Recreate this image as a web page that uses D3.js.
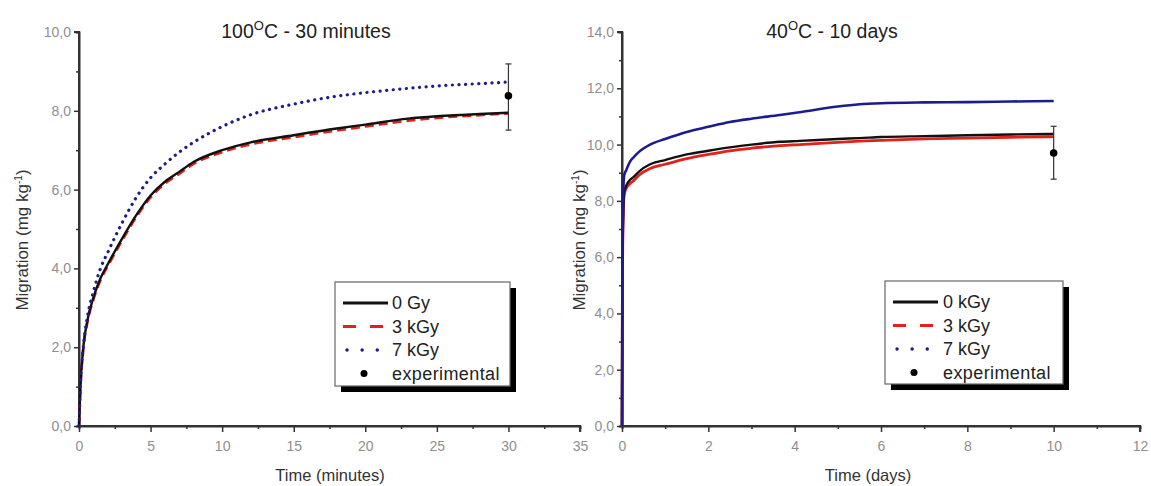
<!DOCTYPE html>
<html><head><meta charset="utf-8">
<script src="https://cdn.jsdelivr.net/npm/d3@7"></script>
<style>html,body{margin:0;padding:0;background:#fff;}svg{display:block;font-family:"Liberation Sans",Arial,sans-serif;}
.tick text{font-size:14px !important;fill:#8f8f8f;font-family:"Liberation Sans",Arial,sans-serif;}</style>
</head><body>
<script>
// ---------- DATA ----------
const leftTime  = [0, 0.1, 0.3, 0.6, 1, 1.5, 2, 3, 4, 5, 6, 7, 8, 10, 12, 15, 18, 20, 23, 25, 28, 30];
const left0Gy   = [0, 1.0, 2.0, 2.7, 3.25, 3.75, 4.1, 4.75, 5.35, 5.85, 6.2, 6.45, 6.7, 7.0, 7.2, 7.38, 7.55, 7.65, 7.8, 7.86, 7.92, 7.95];
const left3kGy  = [0, 0.95, 1.95, 2.65, 3.2, 3.7, 4.05, 4.7, 5.3, 5.8, 6.15, 6.4, 6.65, 6.95, 7.15, 7.33, 7.5, 7.6, 7.75, 7.82, 7.89, 7.93];
const left7kGy  = [0, 1.0, 2.0, 2.8, 3.4, 4.0, 4.4, 5.15, 5.8, 6.3, 6.65, 6.95, 7.2, 7.6, 7.9, 8.17, 8.37, 8.46, 8.57, 8.63, 8.69, 8.73];
const leftExp   = [30, 8.38, 7.51, 9.19];   // time, mean, low, high

const rightTime = [0, 0.01, 0.03, 0.05, 0.1, 0.19, 0.27, 0.4, 0.65, 1, 1.5, 2, 2.5, 3, 3.66, 4.12, 5, 5.5, 6, 7, 8, 9, 10];
const right0kGy = [0, 5.5, 7.6, 8.3, 8.55, 8.75, 8.85, 9.05, 9.3, 9.45, 9.65, 9.78, 9.9, 10.0, 10.1, 10.13, 10.2, 10.23, 10.27, 10.3, 10.33, 10.36, 10.38];
const right3kGy = [0, 5.3, 7.5, 8.2, 8.45, 8.62, 8.72, 8.92, 9.15, 9.3, 9.5, 9.65, 9.78, 9.87, 9.96, 10.0, 10.08, 10.12, 10.15, 10.2, 10.23, 10.26, 10.28];
const right7kGy = [0, 6.0, 8.3, 8.9, 9.1, 9.4, 9.55, 9.75, 10.0, 10.2, 10.45, 10.63, 10.8, 10.92, 11.05, 11.15, 11.35, 11.43, 11.47, 11.5, 11.51, 11.53, 11.55];
const rightExp  = [10, 9.7, 8.77, 10.65];

const leftXTicks  = [0, 5, 10, 15, 20, 25, 30, 35];
const leftYTicks  = [0, 2, 4, 6, 8, 10];
const rightXTicks = [0, 2, 4, 6, 8, 10, 12];
const rightYTicks = [0, 2, 4, 6, 8, 10, 12, 14];
const leftLegend  = ["0  Gy", "3 kGy", "7 kGy", "experimental"];
const rightLegend = ["0 kGy", "3 kGy", "7 kGy", "experimental"];

const RED = "#e3201c", BLUE = "#1c1c8e", BLACK = "#111";
const FONT = "'Liberation Sans', Arial, sans-serif";

const svg = d3.select("body").append("svg").attr("width", 1151).attr("height", 486);

function panel(o) {
  const g = svg.append("g");
  const x = d3.scaleLinear().domain(o.xDomain).range([o.x0, o.x1]);
  const y = d3.scaleLinear().domain(o.yDomain).range([o.y0, o.y1]);

  // title
  const t = g.append("text").attr("x", o.titleX).attr("y", 38).attr("text-anchor", "middle")
    .attr("font-size", 19.5).attr("fill", "#222");
  t.append("tspan").text(o.titleA);
  t.append("tspan").attr("dy", -8).attr("font-size", 13).text("O");
  t.append("tspan").attr("dy", 8).text(o.titleB);

  // axes
  const fmt = d => d3.format(".1f")(d).replace(".", ",");
  const yAx = g.append("g").attr("transform", `translate(${o.x0},0)`)
    .call(d3.axisLeft(y).tickValues(o.yTicks).tickFormat(fmt).tickSize(5).tickPadding(3));
  const yMinor = g.append("g").attr("transform", `translate(${o.x0},0)`)
    .call(d3.axisLeft(y).tickValues(o.yMinor).tickFormat("").tickSize(3));
  const xAx = g.append("g").attr("transform", `translate(0,${o.y0})`)
    .call(d3.axisBottom(x).tickValues(o.xTicks).tickFormat(d3.format("d")).tickSize(6).tickPadding(9));
  const xMinor = g.append("g").attr("transform", `translate(0,${o.y0})`)
    .call(d3.axisBottom(x).tickValues(o.xMinor).tickFormat("").tickSize(3));
  [yAx, yMinor, xAx, xMinor].forEach(a => {
    a.attr("font-family", FONT).attr("font-size", 14);
    a.select(".domain").attr("stroke", "#333").attr("stroke-width", 2);
    a.selectAll(".tick line").attr("stroke", "#333").attr("stroke-width", 1.5);
    a.selectAll(".tick text").attr("fill", "#8f8f8f");
  });
  yAx.select(".domain").attr("d", `M-5,${o.y1}H0V${o.y0}`);
  xAx.select(".domain").attr("d", `M${o.x0},0H${o.x1}V6`);

  // axis titles
  g.append("text").attr("x", o.xLabelX).attr("y", 481).attr("text-anchor", "middle")
    .attr("font-size", 16.5).attr("fill", "#333").text(o.xLabel);
  const yl = g.append("text").attr("transform", `translate(${o.yLabelX},${o.yLabelY}) rotate(-90)`)
    .attr("text-anchor", "middle").attr("font-size", 17).attr("fill", "#333");
  yl.append("tspan").text("Migration (mg kg");
  yl.append("tspan").attr("dy", -6).attr("font-size", 10).text("-1");
  yl.append("tspan").attr("dy", 6).text(")");

  // curves
  const line = d3.line().x(d => x(d[0])).y(d => y(d[1])).curve(d3.curveMonotoneX);
  o.series.forEach(s => {
    g.append("path").datum(o.time.map((tt, i) => [tt, s.values[i]]))
      .attr("fill", "none").attr("stroke", s.color).attr("stroke-width", s.width)
      .attr("stroke-dasharray", s.dash || null).attr("stroke-linecap", s.cap || "butt")
      .attr("d", line);
  });

  // experimental point
  const e = o.exp;
  g.append("line").attr("x1", x(e[0])).attr("x2", x(e[0])).attr("y1", y(e[2])).attr("y2", y(e[3]))
    .attr("stroke", "#333").attr("stroke-width", 1.2);
  [e[2], e[3]].forEach(v => g.append("line").attr("x1", x(e[0]) - 3).attr("x2", x(e[0]) + 3)
    .attr("y1", y(v)).attr("y2", y(v)).attr("stroke", "#333").attr("stroke-width", 1.2));
  g.append("circle").attr("cx", x(e[0])).attr("cy", y(e[1])).attr("r", 3.8).attr("fill", "#000");

  // legend
  const L = o.legend;
  g.append("rect").attr("x", L.x + 6).attr("y", L.y + 6).attr("width", L.w).attr("height", L.h).attr("fill", "#000");
  g.append("rect").attr("x", L.x).attr("y", L.y).attr("width", L.w).attr("height", L.h)
    .attr("fill", "#fff").attr("stroke", "#666").attr("stroke-width", 1.2);
  const styles = [
    {color: BLACK, width: 3, dash: null, a: 8, b: 53},
    {color: RED, width: 3, dash: "13,14", a: 8, b: 48},
    {color: BLUE, width: 3.4, dash: "0.1,15", cap: "round", a: 12, b: 43},
  ];
  o.legendLabels.forEach((lab, i) => {
    const yy = L.y + 21 + i * 23.5;
    if (i < 3) {
      const s = styles[i];
      g.append("line").attr("x1", L.x + s.a).attr("x2", L.x + s.b).attr("y1", yy).attr("y2", yy)
        .attr("stroke", s.color).attr("stroke-width", s.width)
        .attr("stroke-dasharray", s.dash).attr("stroke-linecap", s.cap || "butt");
    } else {
      g.append("circle").attr("cx", L.x + 29).attr("cy", yy).attr("r", 3.5).attr("fill", "#000");
    }
    g.append("text").attr("x", L.x + L.tx).attr("y", yy + 6).attr("font-size", 18)
      .attr("letter-spacing", i === 3 ? 0.4 : 0).attr("fill", "#222").text(lab);
  });
}

panel({
  x0: 79, x1: 580, y0: 426, y1: 32, xDomain: [0, 35], yDomain: [0, 10],
  xTicks: leftXTicks, xMinor: [2.5, 7.5, 12.5, 17.5, 22.5, 27.5, 32.5],
  yTicks: leftYTicks, yMinor: [1, 3, 5, 7, 9],
  titleX: 306, titleA: "100", titleB: "C - 30 minutes",
  xLabel: "Time (minutes)", xLabelX: 330, yLabelX: 28, yLabelY: 240,
  time: leftTime,
  series: [
    {values: left3kGy, color: RED, width: 2.6, dash: "9,5"},
    {values: left0Gy, color: BLACK, width: 2.4},
    {values: left7kGy, color: BLUE, width: 3.2, dash: "0.1,6.5", cap: "round"},
  ],
  exp: leftExp,
  legend: {x: 335, y: 282, w: 175, h: 104, tx: 57},
  legendLabels: leftLegend,
});

panel({
  x0: 622, x1: 1140, y0: 426, y1: 32, xDomain: [0, 12], yDomain: [0, 14],
  xTicks: rightXTicks, xMinor: [1, 3, 5, 7, 9, 11],
  yTicks: rightYTicks, yMinor: [1, 3, 5, 7, 9, 11, 13],
  titleX: 832, titleA: "40", titleB: "C - 10 days",
  xLabel: "Time (days)", xLabelX: 868, yLabelX: 585, yLabelY: 240,
  time: rightTime,
  series: [
    {values: right3kGy, color: RED, width: 2.8},
    {values: right0kGy, color: BLACK, width: 2.4},
    {values: right7kGy, color: BLUE, width: 2.6},
  ],
  exp: rightExp,
  legend: {x: 885, y: 281, w: 178, h: 103, tx: 58},
  legendLabels: rightLegend,
});
</script>
</body></html>
